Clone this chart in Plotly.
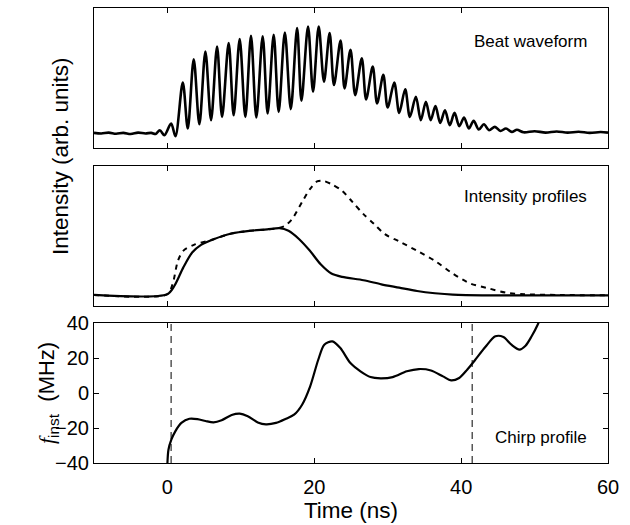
import plotly.graph_objects as go

# ---------------- data ----------------
# Beat waveform (extrema), arbitrary units 0..1
beat_t = [-10, -9, -8, -7, -6, -5, -4, -3, -2.2, -1.6, -1.04, -0.41, 0.5, 1.09,
          2.09, 2.77, 3.58, 4.35, 5.17, 5.94, 6.76, 7.44, 8.34, 9.02, 9.84, 10.61,
          11.38, 12.11, 12.97, 13.65, 14.47, 15.15, 15.99, 16.8, 17.66, 18.25,
          19.15, 19.83, 20.6, 21.32, 22.09, 22.68, 23.58, 24.12, 24.93, 25.57,
          26.47, 27.06, 27.96, 28.55, 29.4, 29.99, 30.89, 31.57, 32.38, 33.02,
          33.83, 34.51, 35.2, 35.85, 36.5, 37.15, 37.8, 38.45, 39.1, 39.75, 40.4,
          41.05, 41.7, 42.4, 43.1, 43.8, 44.6, 45.35, 46.1, 46.9, 47.6, 48.5, 50,
          51.5, 53, 54.5, 56, 57.5, 59, 60]
beat_v = [0.108, 0.104, 0.11, 0.102, 0.108, 0.1, 0.11, 0.104, 0.108, 0.1, 0.127,
          0.091, 0.175, 0.084, 0.467, 0.139, 0.634, 0.170, 0.689, 0.199, 0.725,
          0.222, 0.749, 0.234, 0.778, 0.222, 0.801, 0.218, 0.797, 0.246, 0.809,
          0.258, 0.825, 0.278, 0.856, 0.337, 0.868, 0.402, 0.868, 0.474, 0.821,
          0.450, 0.768, 0.426, 0.701, 0.378, 0.641, 0.347, 0.581, 0.318, 0.522,
          0.289, 0.467, 0.251, 0.419, 0.222, 0.366, 0.199, 0.33, 0.199, 0.299,
          0.179, 0.27, 0.163, 0.251, 0.156, 0.218, 0.139, 0.194, 0.132, 0.17,
          0.127, 0.151, 0.122, 0.139, 0.115, 0.13, 0.112, 0.12, 0.11, 0.118,
          0.11, 0.116, 0.108, 0.114, 0.11]

# Intensity profiles
solid_t = [-10, -0.03, 0.94, 2.15, 3.37, 4.58, 6.29, 8.72, 11.15, 13.58, 15.28,
           16.49, 17.95, 19.41, 20.87, 22.33, 23.79, 26.7, 29.13, 31.57, 34.0,
           36.43, 38.86, 43.72, 60]
solid_v = [0.079, 0.084, 0.143, 0.274, 0.382, 0.437, 0.477, 0.518, 0.537, 0.547,
           0.556, 0.537, 0.477, 0.394, 0.298, 0.232, 0.208, 0.184, 0.155, 0.131,
           0.107, 0.091, 0.081, 0.076, 0.076]
dashed_t = [-10, -0.03, 0.7, 1.42, 2.15, 3.61, 6.29, 8.72, 11.15, 13.58, 15.0,
            16.01, 16.98, 18.44, 19.41, 20.38, 21.11, 22.33, 23.79, 25.25, 26.7,
            28.16, 29.62, 31.57, 34.0, 36.43, 38.86, 41.29, 43.72, 46.15, 48.58,
            53.44, 60]
dashed_v = [0.079, 0.084, 0.155, 0.322, 0.394, 0.437, 0.477, 0.518, 0.537, 0.547,
            0.556, 0.573, 0.621, 0.752, 0.835, 0.890, 0.895, 0.871, 0.823, 0.740,
            0.656, 0.585, 0.513, 0.461, 0.394, 0.322, 0.232, 0.160, 0.126, 0.095,
            0.084, 0.079, 0.076]

# Chirp profile (MHz)
chirp_t = [0, 0.14, 0.53, 1.07, 1.9, 2.99, 4.09, 5.19, 6.28, 7.38, 8.75, 9.85,
           10.94, 12.31, 13.41, 14.78, 16.15, 17.25, 18.34, 19.44, 20.54, 21.36,
           22.46, 23.55, 24.92, 26.29, 27.66, 29.04, 30.68, 32.6, 34.24, 35.89,
           37.53, 38.63, 39.73, 40.82, 41.92, 43.29, 44.66, 45.76, 46.85, 47.95,
           48.77, 49.6, 50.42, 50.9]
chirp_f = [-40, -32.4, -26.7, -21.9, -17.1, -14.7, -14.9, -16.0, -16.8, -15.6,
           -12.6, -11.8, -13.3, -16.8, -17.9, -17.1, -14.7, -12.4, -6.7, 3.8,
           19.0, 27.6, 29.5, 25.7, 17.1, 12.4, 9.1, 8.4, 9.1, 12.4, 13.7, 12.9,
           9.5, 7.2, 8.6, 13.3, 19.0, 26.3, 32.4, 32.0, 27.6, 24.8, 27.0, 32.4,
           39.0, 44.0]
marker_t = [0.5, 41.5]

x_ticks = [0, 20, 40, 60]
f_ticks = [-40, -20, 0, 20, 40]
panel_labels = ["Beat waveform", "Intensity profiles", "Chirp profile"]

# ---------------- figure ----------------
FONT = "Liberation Sans, Arial, Helvetica, sans-serif"
fig = go.Figure()

fig.add_trace(go.Scatter(x=beat_t, y=beat_v, mode="lines", xaxis="x", yaxis="y",
                         line=dict(color="black", width=2.6, shape="spline", smoothing=0.9)))
fig.add_trace(go.Scatter(x=dashed_t, y=dashed_v, mode="lines", xaxis="x2", yaxis="y2",
                         line=dict(color="black", width=2, dash="5px,5px", shape="spline", smoothing=0.8)))
fig.add_trace(go.Scatter(x=solid_t, y=solid_v, mode="lines", xaxis="x2", yaxis="y2",
                         line=dict(color="black", width=2.2, shape="spline", smoothing=0.8)))
for mt in marker_t:
    fig.add_trace(go.Scatter(x=[mt, mt], y=[f_ticks[0], f_ticks[-1]], mode="lines",
                             xaxis="x3", yaxis="y3",
                             line=dict(color="black", width=1, dash="7px,5px")))
fig.add_trace(go.Scatter(x=chirp_t, y=chirp_f, mode="lines", xaxis="x3", yaxis="y3",
                         line=dict(color="black", width=2.2, shape="spline", smoothing=0.8)))

H_TOTAL = 455.0
def dom(top_px, bot_px):
    return [(463 - bot_px) / H_TOTAL, (463 - top_px) / H_TOTAL]

xcommon = dict(range=[-10, 60], tickvals=x_ticks, ticks="inside", ticklen=5,
               showline=True, linecolor="black", linewidth=1, mirror="ticks",
               showgrid=False, zeroline=False, tickcolor="black", automargin=False)
ycommon = dict(showline=True, linecolor="black", linewidth=1, mirror=True,
               showgrid=False, zeroline=False, showticklabels=False, ticks="",
               automargin=False)

fig.update_layout(
    width=630, height=525,
    margin=dict(l=94, r=22, t=8, b=62),
    paper_bgcolor="white", plot_bgcolor="white",
    showlegend=False,
    font=dict(family=FONT, color="black", size=20),
    xaxis=dict(xcommon, anchor="y", showticklabels=False),
    xaxis2=dict(xcommon, anchor="y2", showticklabels=False),
    xaxis3=dict(xcommon, anchor="y3", showticklabels=True,
                tickfont=dict(size=20), ticklabelstandoff=6,
                title=dict(text="Time (ns)", font=dict(size=22.5), standoff=4)),
    yaxis=dict(ycommon, domain=dom(8, 148), range=[0, 1]),
    yaxis2=dict(ycommon, domain=dom(166, 306), range=[0, 1]),
    yaxis3=dict(domain=dom(323, 463), range=[-40, 40], tickvals=f_ticks,
                ticks="inside", ticklen=5, showline=True, linecolor="black",
                linewidth=1, mirror="ticks", showgrid=False, zeroline=False,
                tickcolor="black", tickfont=dict(size=20), automargin=False),
)

ann = []
label_y = [42, 197, 437]
for txt, yp in zip(panel_labels, label_y):
    ann.append(dict(text=txt, xref="paper", yref="paper", x=(589 - 94) / 514.0,
                    y=(463 - yp) / H_TOTAL, xanchor="right", yanchor="middle",
                    showarrow=False, font=dict(size=17, family=FONT)))
ann.append(dict(text="Intensity (arb. units)", xref="paper", yref="paper",
                x=(61 - 94) / 514.0, y=(463 - 156) / H_TOTAL, textangle=-90,
                xanchor="center", yanchor="middle", showarrow=False,
                font=dict(size=22.5, family=FONT)))
ann.append(dict(text="<span style='font-family:Liberation Serif, Times New Roman, serif'><i>f</i></span><sub>inst</sub>  (MHz)",
                xref="paper", yref="paper", x=(48 - 94) / 514.0, y=(463 - 393) / H_TOTAL,
                textangle=-90, xanchor="center", yanchor="middle", showarrow=False,
                font=dict(size=22, family=FONT)))
fig.update_layout(annotations=ann)

fig.write_html("out.html", config={"displayModeBar": False},
               post_script="document.body.style.margin='0px';")
